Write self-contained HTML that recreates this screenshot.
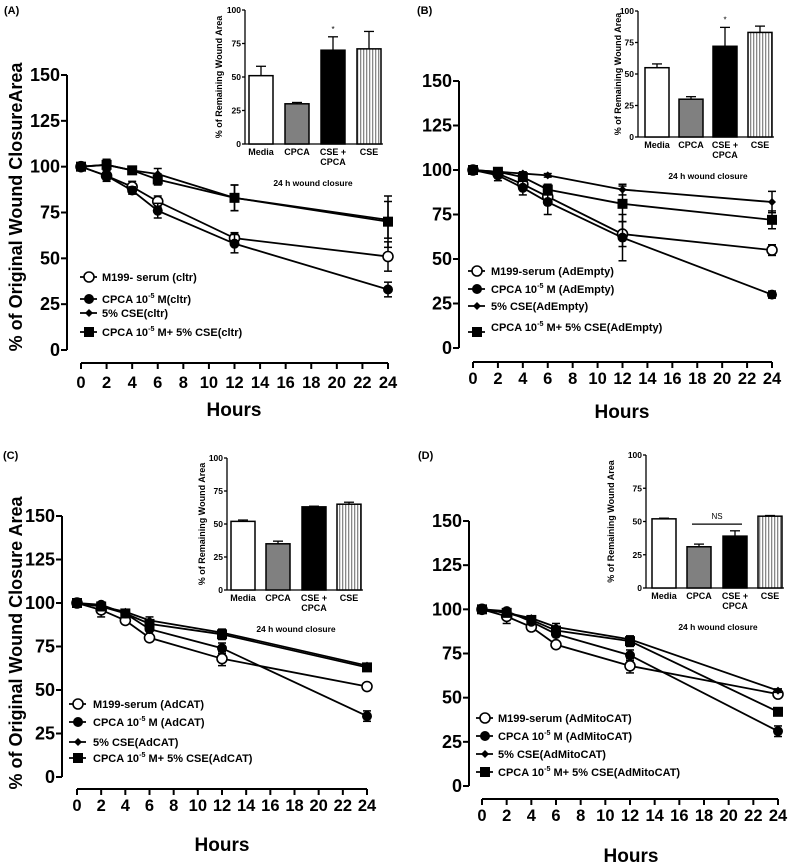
<!DOCTYPE html>
<html><head><meta charset="utf-8"><style>
html,body{margin:0;padding:0;background:#fff}
svg{display:block;font-family:"Liberation Sans",Arial,sans-serif;font-weight:bold}
</style></head><body>
<svg id="fig" width="789" height="863" viewBox="0 0 789 863" xmlns="http://www.w3.org/2000/svg"></svg>
<script>
const hours=[0,2,4,6,12,24];
const yTicks=[0,25,50,75,100,125,150];
const xTicks=[0,2,4,6,8,10,12,14,16,18,20,22,24];
const barCats=["Media","CPCA","CSE +|CPCA","CSE"];
const barTicks=[0,25,50,75,100];
// Panel A
const aM199=[100,95,89,81,61,51], aM199Err=[0,3,3,3,3,8];
const aCPCA=[100,95,87,76,58,33], aCPCAErr=[0,2,2,4,5,4];
const aCSE=[100,101,98,96,83,71], aCSEErr=[0,3,2,3,7,10];
const aCombo=[100,101,98,93,83,70], aComboErr=[0,3,2,3,7,14];
const aBars=[51,30,70,71], aBarErr=[7,1,10,13];
// Panel B
const bM199=[100,98,92,85,64,55], bM199Err=[0,2,3,4,7,3];
const bCPCA=[100,97,90,82,62,30], bCPCAErr=[0,3,4,7,13,2];
const bCSE=[100,99,98,97,89,82], bCSEErr=[0,1,1,1,3,6];
const bCombo=[100,99,96,89,81,72], bComboErr=[0,2,2,3,10,5];
const bBars=[55,30,72,83], bBarErr=[3,2,15,5];
// Panel C
const cM199=[100,96,90,80,68,52], cM199Err=[0,4,2,1,4,1];
const cCPCA=[100,99,94,85,74,35], cCPCAErr=[0,1,1,1,3,3];
const cCSE=[100,98,95,90,83,64], cCSEErr=[0,1,1,2,1,1];
const cCombo=[100,98,94,88,82,63], cComboErr=[0,1,1,2,3,1];
const cBars=[52,35,63,65], cBarErr=[1,2,0.5,1.5];
// Panel D
const dM199=[100,96,90,80,68,52], dM199Err=[0,4,2,1,4,1];
const dCPCA=[100,99,93,86,74,31], dCPCAErr=[0,1,1,1,3,3];
const dCSE=[100,98,95,90,83,54], dCSEErr=[0,1,1,2,1,1];
const dCombo=[100,98,94,88,82,42], dComboErr=[0,1,1,2,3,1];
const dBars=[52,31,39,54], dBarErr=[0.5,2,4,0.5];

const NS="http://www.w3.org/2000/svg";
const svg=document.getElementById('fig');
function mk(tag,attrs,parent,txt){const e=document.createElementNS(NS,tag);for(const k in attrs)e.setAttribute(k,attrs[k]);if(txt!=null)e.textContent=txt;(parent||svg).appendChild(e);return e;}

const panels=[
 {id:'a',label:'(A)',lx:4,ly:14,ax:67,y150:75,y0:350,xAxY:363,x0:81,x24:388,tickY:388,hoursX:234,hoursY:416,
  ytitle:'% of Original Wound ClosureArea',ytx:16,yty:207,
  series:[[aM199,aM199Err],[aCPCA,aCPCAErr],[aCSE,aCSEErr],[aCombo,aComboErr]],
  legend:{mx:80,tx:102,ys:[277,299,313,332],names:['M199- serum (cltr)','CPCA 10|-5| M(cltr)','5% CSE(cltr)','CPCA 10|-5| M+ 5% CSE(cltr)']},
  inset:{ax:245,y100:10,y0:144,bx:[249,285,321,357],bw:24,vals:aBars,errs:aBarErr,star:2,capY:186,capX:313,ytx:222}},
 {id:'b',label:'(B)',lx:417,ly:14,ax:459,y150:81,y0:348,xAxY:362,x0:473,x24:772,tickY:384,hoursX:622,hoursY:418,
  ytitle:null,
  series:[[bM199,bM199Err],[bCPCA,bCPCAErr],[bCSE,bCSEErr],[bCombo,bComboErr]],
  legend:{mx:468,tx:491,ys:[271,289,306,332],names:['M199-serum (AdEmpty)','CPCA 10|-5| M (AdEmpty)','5% CSE(AdEmpty)','CPCA 10|-5| M+ 5% CSE(AdEmpty)'],lastTextY:327},
  inset:{ax:638,y100:11,y0:137,bx:[645,679,713,748],bw:24,vals:bBars,errs:bBarErr,star:2,capY:179,capX:708,ytx:621}},
 {id:'c',label:'(C)',lx:3,ly:459,ax:62,y150:516,y0:777,xAxY:789,x0:77,x24:367,tickY:811,hoursX:222,hoursY:851,
  ytitle:'% of Original Wound Closure Area',ytx:16,yty:643,
  series:[[cM199,cM199Err],[cCPCA,cCPCAErr],[cCSE,cCSEErr],[cCombo,cComboErr]],
  legend:{mx:69,tx:93,ys:[704,722,742,758],names:['M199-serum (AdCAT)','CPCA 10|-5| M (AdCAT)','5% CSE(AdCAT)','CPCA 10|-5| M+ 5% CSE(AdCAT)']},
  inset:{ax:227,y100:458,y0:590,bx:[231,266,302,337],bw:24,vals:cBars,errs:cBarErr,capY:632,capX:296,ytx:205}},
 {id:'d',label:'(D)',lx:418,ly:459,ax:469,y150:521,y0:786,xAxY:799,x0:482,x24:778,tickY:821,hoursX:631,hoursY:862,
  ytitle:null,
  series:[[dM199,dM199Err],[dCPCA,dCPCAErr],[dCSE,dCSEErr],[dCombo,dComboErr]],
  legend:{mx:476,tx:498,ys:[718,736,754,772],names:['M199-serum (AdMitoCAT)','CPCA 10|-5| M (AdMitoCAT)','5% CSE(AdMitoCAT)','CPCA 10|-5| M+ 5% CSE(AdMitoCAT)']},
  inset:{ax:646,y100:455,y0:588,bx:[652,687,723,758],bw:24,vals:dBars,errs:dBarErr,ns:true,capY:630,capX:718,ytx:614}}
];
const markerTypes=['open-circle','filled-circle','diamond','square'];
const seriesNames=['m199-serum','cpca','cse','cpca-plus-cse'];

function marker(g,type,x,y){
 let m;
 if(type==='open-circle')m=mk('circle',{cx:x,cy:y,r:5,fill:'#fff',stroke:'#000','stroke-width':1.6},g);
 else if(type==='filled-circle')m=mk('circle',{cx:x,cy:y,r:5,fill:'#000'},g);
 else if(type==='diamond')m=mk('path',{d:`M${x} ${y-4}L${x+4} ${y}L${x} ${y+4}L${x-4} ${y}Z`,fill:'#000'},g);
 else m=mk('rect',{x:x-5,y:y-5,width:10,height:10,fill:'#000'},g);
 return m;
}
function richText(g,x,y,str,size){
 const t=mk('text',{x:x,y:y,'font-size':size},g);
 const parts=str.split('|');
 parts.forEach((p,i)=>{mk('tspan',i%2?{'font-size':size*0.65,dy:-5}:(i>0?{dy:5}:{}),t,p);});
 return t;
}

panels.forEach(P=>{
 const g=mk('g',{});
 
 
 const yS=v=>P.y0-(v/150)*(P.y0-P.y150);
 const xS=h=>P.x0+(h/24)*(P.x24-P.x0);
 const lab=mk('text',{x:P.lx,y:P.ly,'font-size':11},g,P.label);
 
 
 const ya=mk('g',{},g);
 
 
 mk('line',{x1:P.ax,y1:P.y150,x2:P.ax,y2:P.y0,stroke:'#000','stroke-width':2},ya);
 yTicks.forEach(v=>{
  mk('line',{x1:P.ax-6,y1:yS(v),x2:P.ax,y2:yS(v),stroke:'#000','stroke-width':2},ya);
  mk('text',{x:P.ax-7,y:yS(v)+6,'text-anchor':'end','font-size':18},ya,v);
 });
 const xa=mk('g',{},g);
 
 
 mk('line',{x1:xS(0),y1:P.xAxY,x2:xS(24),y2:P.xAxY,stroke:'#000','stroke-width':2},xa);
 xTicks.forEach(h=>{
  mk('line',{x1:xS(h),y1:P.xAxY,x2:xS(h),y2:P.xAxY+6,stroke:'#000','stroke-width':2},xa);
  mk('text',{x:xS(h),y:P.tickY,'text-anchor':'middle','font-size':16.5},xa,h);
 });
 const ht=mk('text',{x:P.hoursX,y:P.hoursY,'text-anchor':'middle','font-size':19},g,'Hours');
 
 
 if(P.ytitle){
  const yt=mk('text',{x:P.ytx,y:P.yty,'text-anchor':'middle','font-size':18,transform:`rotate(-90 ${P.ytx} ${P.yty})`,dy:6},g,P.ytitle);
  
  
 }
 P.series.forEach((s,si)=>{
  const [vals,errs]=s;
  const sg=mk('g',{},g);
  
  
  mk('polyline',{points:hours.map((h,i)=>xS(h)+','+yS(vals[i])).join(' '),fill:'none',stroke:'#000','stroke-width':1.8},sg);
  hours.forEach((h,i)=>{
   if(errs[i]>0){
    const x=xS(h),y1=yS(vals[i]-errs[i]),y2=yS(vals[i]+errs[i]);
    mk('line',{x1:x,y1:y1,x2:x,y2:y2,stroke:'#000','stroke-width':1.5},sg);
    mk('line',{x1:x-4,y1:y1,x2:x+4,y2:y1,stroke:'#000','stroke-width':1.5},sg);
    mk('line',{x1:x-4,y1:y2,x2:x+4,y2:y2,stroke:'#000','stroke-width':1.5},sg);
   }
  });
  hours.forEach((h,i)=>{
   const m=marker(sg,markerTypes[si],xS(h),yS(vals[i]));
   
   
  });
 });
 const L=P.legend;
 const lg=mk('g',{},g);
 
 
 L.names.forEach((n,i)=>{
  const eg=mk('g',{},lg);
  
  
  const y=L.ys[i];
  mk('line',{x1:L.mx,y1:y,x2:L.mx+17,y2:y,stroke:'#000','stroke-width':1.8},eg);
  marker(eg,markerTypes[i],L.mx+9,y);
  const ty=(i===3&&L.lastTextY)?L.lastTextY:y;
  richText(eg,L.tx,ty+4,n,11);
 });
 const I=P.inset;
 const ig=mk('g',{},g);
 
 
 const bS=v=>I.y0-(v/100)*(I.y0-I.y100);
 mk('line',{x1:I.ax,y1:I.y100,x2:I.ax,y2:I.y0,stroke:'#000','stroke-width':1.3},ig);
 mk('line',{x1:I.ax,y1:I.y0,x2:I.bx[3]+I.bw+2,y2:I.y0,stroke:'#000','stroke-width':1.3},ig);
 barTicks.forEach(v=>{
  mk('line',{x1:I.ax-3,y1:bS(v),x2:I.ax,y2:bS(v),stroke:'#000','stroke-width':1.3},ig);
  mk('text',{x:I.ax-4,y:bS(v)+3,'text-anchor':'end','font-size':8.5},ig,v);
 });
 const iyc=(I.y100+I.y0)/2;
 mk('text',{x:I.ytx,y:iyc,'text-anchor':'middle','font-size':9,transform:`rotate(-90 ${I.ytx} ${iyc})`},ig,'% of  Remaining  Wound Area');
 const fills=['#fff','#808080','#000','url(#stripes)'];
 I.vals.forEach((v,i)=>{
  const x=I.bx[i];
  const xc=x+I.bw/2,ye=bS(v+I.errs[i]);
  mk('line',{x1:xc,y1:bS(v),x2:xc,y2:ye,stroke:'#000','stroke-width':1.3},ig);
  mk('line',{x1:xc-5,y1:ye,x2:xc+5,y2:ye,stroke:'#000','stroke-width':1.3},ig);
  const r=mk('rect',{x:x,y:bS(v),width:I.bw,height:I.y0-bS(v),fill:fills[i],stroke:'#000','stroke-width':1.5},ig);
  
  
  const parts=barCats[i].split('|');
  parts.forEach((p,k)=>mk('text',{x:xc,y:I.y0+11+k*10,'text-anchor':'middle','font-size':9},ig,p));
  if(I.star===i)mk('text',{x:xc,y:ye-5,'text-anchor':'middle','font-size':8,'font-weight':'normal'},ig,'*');
 });
 if(I.ns){
  const ly=bS(48);
  mk('line',{x1:I.bx[1]+5,y1:ly,x2:I.bx[2]+I.bw-5,y2:ly,stroke:'#000','stroke-width':1.3},ig);
  mk('text',{x:(I.bx[1]+I.bx[2]+I.bw)/2,y:ly-5,'text-anchor':'middle','font-size':8,'font-weight':'normal'},ig,'NS');
 }
 const cap=mk('text',{x:I.capX,y:I.capY,'text-anchor':'middle','font-size':8.5},ig,'24 h wound closure');
 
 
});
const defs=mk('defs',{});
const pat=mk('pattern',{id:'stripes',patternUnits:'userSpaceOnUse',width:3,height:3},defs);
mk('rect',{x:0,y:0,width:3,height:3,fill:'#fff'},pat);
mk('rect',{x:0,y:0,width:1.3,height:3,fill:'#888'},pat);
svg.insertBefore(defs,svg.firstChild);
</script>
</body></html>
